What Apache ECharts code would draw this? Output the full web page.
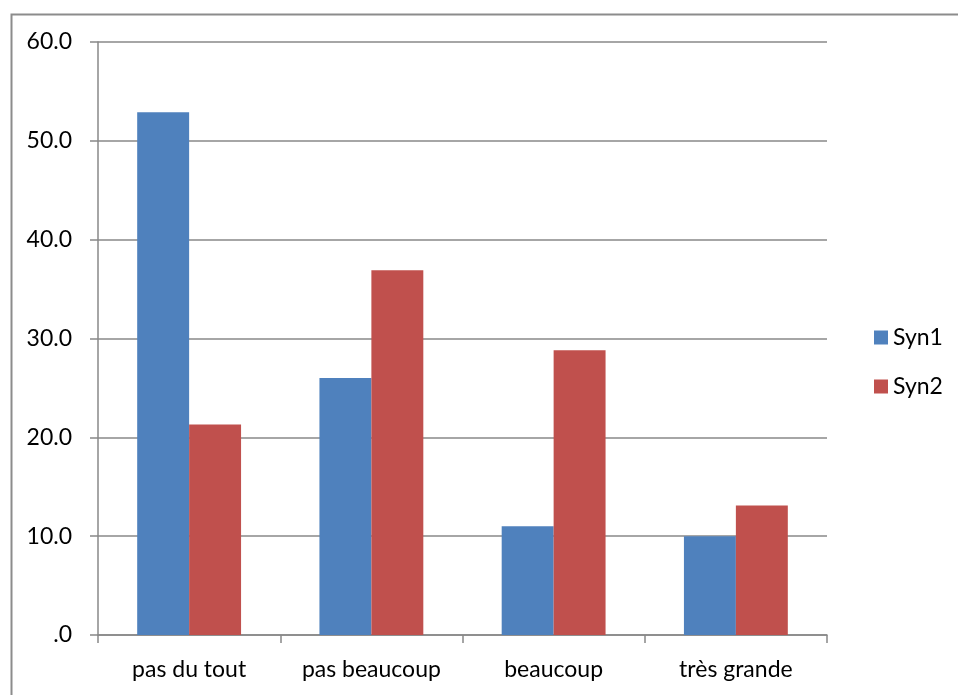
<!DOCTYPE html>
<html>
<head>
<meta charset="utf-8">
<script src="https://cdn.jsdelivr.net/npm/echarts@6/dist/echarts.min.js"></script>
<style>
  html, body { margin: 0; padding: 0; background: #ffffff; }
  #chart { width: 958px; height: 695px; }
</style>
</head>
<body>
<div id="chart"></div>
<script>
// Response categories and the two series
const categories = ['pas du tout', 'pas beaucoup', 'beaucoup', 'très grande'];
const syn1 = [52.9, 26.0, 11.0, 10.0];
const syn2 = [21.3, 36.9, 28.8, 13.1];
const seriesNames = ['Syn1', 'Syn2'];

const FONT = 'Lato, "Open Sans", sans-serif';
const chart = echarts.init(document.getElementById('chart'), null, { renderer: 'canvas' });

chart.setOption({
  animation: false,
  backgroundColor: '#ffffff',
  color: ['#4F81BD', '#C0504D'],
  graphic: [{
    type: 'rect',
    left: 9, top: 12,
    shape: { width: 980, height: 720 },
    style: { fill: 'none', stroke: '#8c8c8c', lineWidth: 2 },
    silent: true
  }],
  grid: { left: 98, right: 131, top: 42, bottom: 60 },
  legend: {
    orient: 'vertical',
    left: 869, top: 321,
    itemWidth: 14, itemHeight: 14, itemGap: 26,
    icon: 'rect',
    data: seriesNames,
    textStyle: { fontFamily: FONT, fontSize: 23, color: '#000000', padding: [0, 0, 0, 0] }
  },
  xAxis: {
    type: 'category',
    data: categories,
    axisLine: { lineStyle: { color: '#888888', width: 1.5 } },
    axisTick: { show: true, length: 8, alignWithLabel: false, lineStyle: { color: '#888888', width: 1.5 } },
    axisLabel: { fontFamily: FONT, fontSize: 23, color: '#000000', margin: 23 }
  },
  yAxis: {
    type: 'value',
    min: 0, max: 60, interval: 10,
    axisLine: { show: true, lineStyle: { color: '#888888', width: 1.5 } },
    axisTick: { show: true, length: 8, lineStyle: { color: '#888888', width: 1.5 } },
    splitLine: { lineStyle: { color: '#888888', width: 1.5 } },
    axisLabel: {
      fontFamily: FONT, fontSize: 23, color: '#000000', margin: 26,
      formatter: v => v === 0 ? '.0' : v.toFixed(1)
    }
  },
  series: [
    { name: seriesNames[0], type: 'bar', data: syn1, barGap: '0%', barCategoryGap: '43%' },
    { name: seriesNames[1], type: 'bar', data: syn2, barGap: '0%', barCategoryGap: '43%' }
  ]
});
</script>
</body>
</html>
